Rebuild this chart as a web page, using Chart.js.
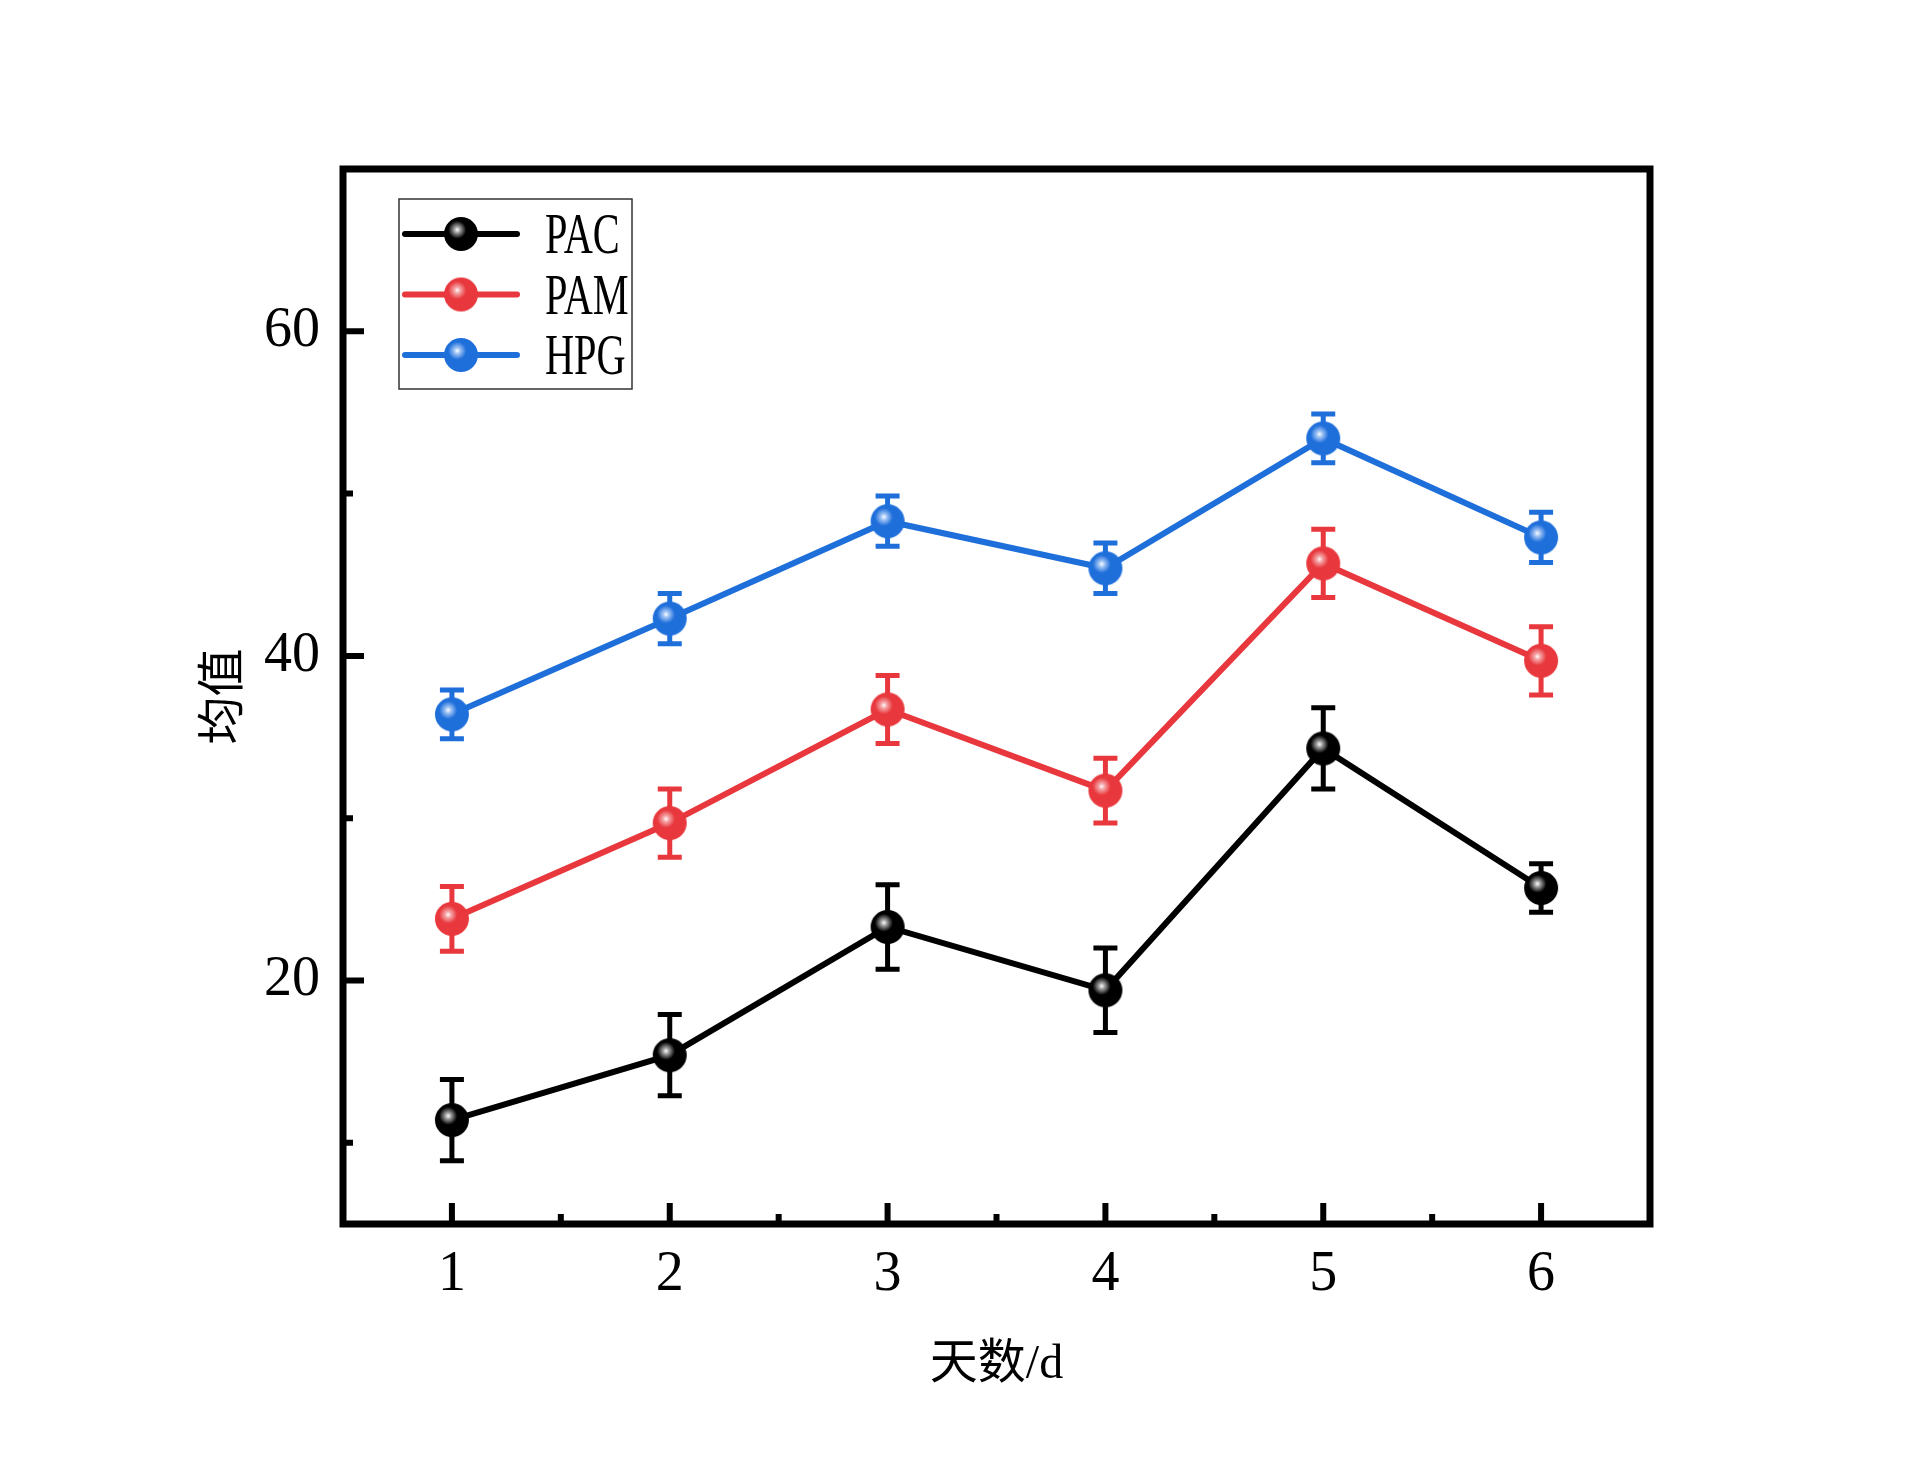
<!DOCTYPE html>
<html lang="zh">
<head>
<meta charset="UTF-8">
<title>均值</title>
<script src="https://cdn.jsdelivr.net/npm/chart.js"></script>
<style>
  body { margin: 0; background: #fff; }
  canvas { display: block; }
</style>
</head>
<body>
<canvas id="chart" width="1920" height="1470"></canvas>
<script>
// data
const days = [1, 2, 3, 4, 5, 6];
const xMinorTicks = [1.5, 2.5, 3.5, 4.5, 5.5];
const yMajorTicks = [20, 40, 60];
const yMinorTicks = [10, 30, 50];
const seriesNames = ['PAC', 'PAM', 'HPG'];
const pacMean = [11.4, 15.4, 23.3, 19.4, 34.3, 25.7];
const pacErr  = [2.5, 2.5, 2.6, 2.6, 2.5, 1.5];
const pamMean = [23.8, 29.7, 36.7, 31.7, 45.7, 39.7];
const pamErr  = [2.0, 2.1, 2.1, 2.0, 2.1, 2.1];
const hpgMean = [36.4, 42.3, 48.3, 45.4, 53.4, 47.3];
const hpgErr  = [1.5, 1.55, 1.55, 1.55, 1.5, 1.55];

const means = [pacMean, pamMean, hpgMean];
const errs = [pacErr, pamErr, hpgErr];
const colors = ['#000000', '#e8383d', '#1f6fdb'];
const highlights = ['#a0a0a0', '#f5a5a7', '#a0c4f4'];

const serif = '"Liberation Serif", "Times New Roman", "Noto Sans CJK SC", serif';

// shaded ball marker
function makeBall(color, hi, r) {
    const c = document.createElement('canvas');
    c.width = c.height = 2 * r + 2;
    const g = c.getContext('2d');
    const cx = r + 1, cy = r + 1;
    const gx = cx - r * 0.22, gy = cy - r * 0.25;
    const grad = g.createRadialGradient(gx, gy, 0, gx, gy, r * 1.1);
    grad.addColorStop(0, '#ffffff');
    grad.addColorStop(0.16, hi);
    grad.addColorStop(0.48, color);
    grad.addColorStop(1, color);
    g.fillStyle = grad;
    g.beginPath();
    g.arc(cx, cy, r, 0, Math.PI * 2);
    g.fill();
    return c;
}
const balls = colors.map((c, i) => makeBall(c, highlights[i], 17));

const errorBars = {
    id: 'errorBars',
    beforeDatasetsDraw(chart) {
        const { ctx, scales: { x, y } } = chart;
        chart.data.datasets.forEach((ds, i) => {
            ctx.save();
            ctx.strokeStyle = ds.borderColor;
            ctx.lineWidth = 5;
            ds.data.forEach((p, j) => {
                const px = x.getPixelForValue(p.x);
                const top = y.getPixelForValue(p.y + errs[i][j]);
                const bot = y.getPixelForValue(p.y - errs[i][j]);
                ctx.beginPath();
                ctx.moveTo(px, top); ctx.lineTo(px, bot);
                ctx.moveTo(px - 12, top); ctx.lineTo(px + 12, top);
                ctx.moveTo(px - 12, bot); ctx.lineTo(px + 12, bot);
                ctx.stroke();
            });
            ctx.restore();
        });
    }
};

// frame with inward ticks
const frame = {
    id: 'frame',
    afterDatasetsDraw(chart) {
        const { ctx, chartArea: a, scales: { x, y } } = chart;
        ctx.save();
        ctx.strokeStyle = '#000';
        ctx.lineWidth = 6;
        ctx.beginPath();
        days.forEach(v => { const px = x.getPixelForValue(v); ctx.moveTo(px, a.bottom); ctx.lineTo(px, a.bottom - 21); });
        xMinorTicks.forEach(v => { const px = x.getPixelForValue(v); ctx.moveTo(px, a.bottom); ctx.lineTo(px, a.bottom - 10); });
        yMajorTicks.forEach(v => { const py = y.getPixelForValue(v); ctx.moveTo(a.left, py); ctx.lineTo(a.left + 21, py); });
        yMinorTicks.forEach(v => { const py = y.getPixelForValue(v); ctx.moveTo(a.left, py); ctx.lineTo(a.left + 10, py); });
        ctx.stroke();
        ctx.lineWidth = 7;
        ctx.strokeRect(a.left, a.top, a.right - a.left, a.bottom - a.top);
        ctx.restore();
    }
};

const legendBox = {
    id: 'legendBox',
    afterDraw(chart) {
        const { ctx, chartArea: a } = chart;
        const bx = a.left + 56, by = a.top + 30, bw = 233, bh = 190;
        ctx.save();
        ctx.fillStyle = '#fff';
        ctx.fillRect(bx, by, bw, bh);
        ctx.strokeStyle = '#333';
        ctx.lineWidth = 1.5;
        ctx.strokeRect(bx, by, bw, bh);
        seriesNames.forEach((name, i) => {
            const cy = by + 35 + i * 60.5;
            ctx.strokeStyle = colors[i];
            ctx.lineWidth = 6;
            ctx.lineCap = 'round';
            ctx.beginPath();
            ctx.moveTo(bx + 6, cy);
            ctx.lineTo(bx + 118, cy);
            ctx.stroke();
            ctx.drawImage(balls[i], bx + 62 - balls[i].width / 2, cy - balls[i].height / 2);
            ctx.save();
            ctx.translate(bx + 146, cy + 19);
            ctx.scale(0.72, 1);
            ctx.fillStyle = '#000';
            ctx.font = '56px ' + serif;
            ctx.textBaseline = 'alphabetic';
            ctx.fillText(name, 0, 0);
            ctx.restore();
        });
        ctx.restore();
    }
};

Chart.defaults.color = '#000';

new Chart(document.getElementById('chart'), {
    type: 'line',
    data: {
        datasets: seriesNames.map((name, i) => ({
            label: name,
            data: days.map((d, j) => ({ x: d, y: means[i][j] })),
            borderColor: colors[i],
            backgroundColor: colors[i],
            borderWidth: 6,
            pointStyle: balls[i],
            pointRadius: 17,
            tension: 0
        }))
    },
    options: {
        responsive: false,
        animation: false,
        layout: { padding: { left: 0, top: 169, right: 270, bottom: 0 } },
        plugins: { legend: { display: false }, tooltip: { enabled: false } },
        scales: {
            x: {
                type: 'linear',
                min: 0.5,
                max: 6.5,
                afterBuildTicks: s => { s.ticks = days.map(v => ({ value: v })); },
                afterFit: s => { s.height = 246; },
                grid: { display: false, drawTicks: false },
                border: { display: false },
                ticks: { padding: 18, font: { family: serif, size: 56 } },
                title: { display: true, text: '天数/d', padding: { top: 0, bottom: 76 }, font: { family: serif, size: 48 } }
            },
            y: {
                min: 5,
                max: 70,
                afterBuildTicks: s => { s.ticks = yMajorTicks.map(v => ({ value: v })); },
                afterFit: s => { s.width = 343; },
                grid: { display: false, drawTicks: false },
                border: { display: false },
                ticks: { padding: 23, font: { family: serif, size: 56 } },
                title: { display: true, text: '均值', padding: { top: 197, bottom: 0 }, font: { family: serif, size: 48 } }
            }
        }
    },
    plugins: [errorBars, frame, legendBox]
});
</script>
</body>
</html>
